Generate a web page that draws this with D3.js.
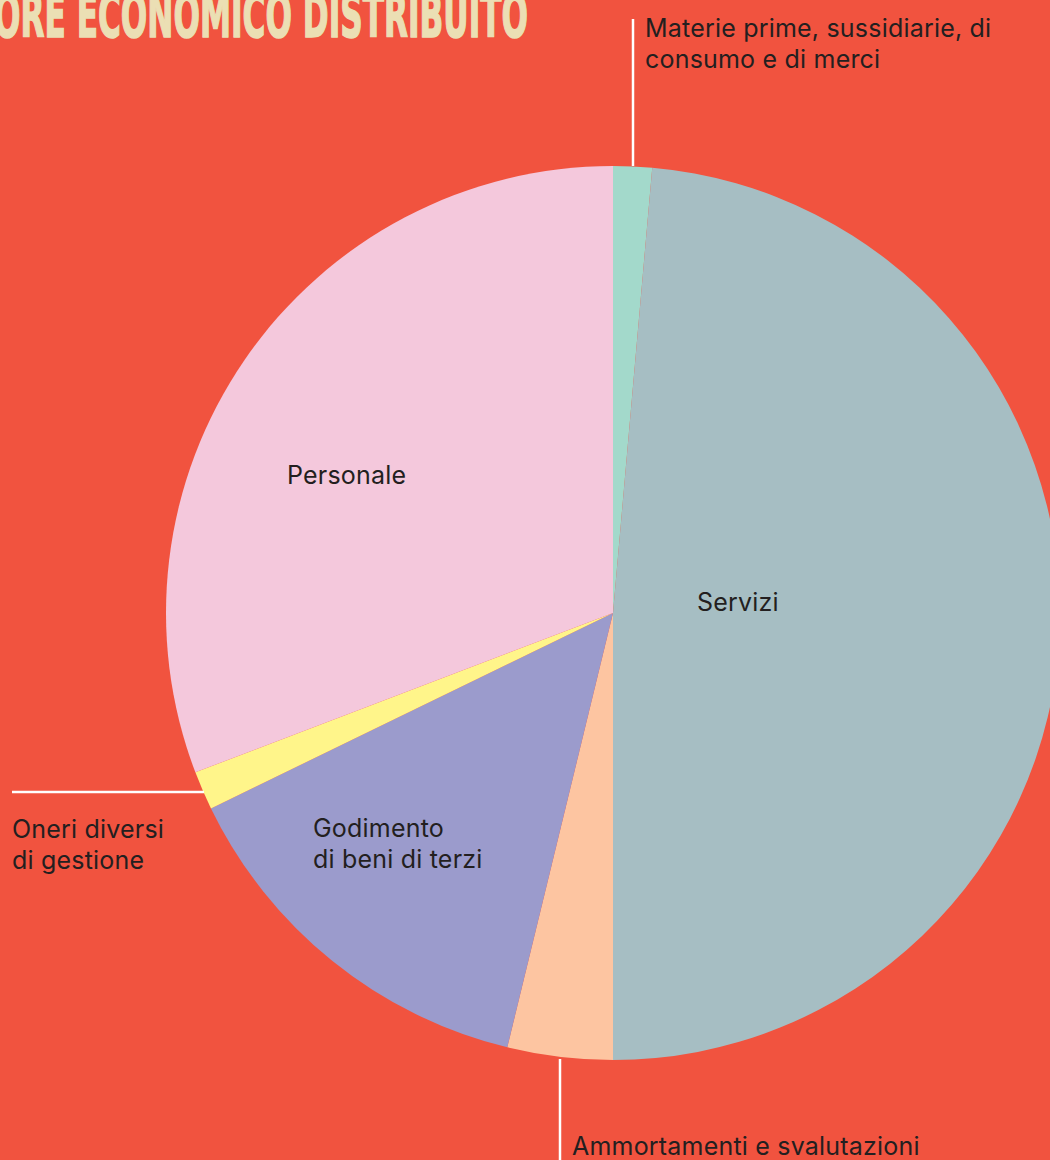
<html>
  <head>
    <script src="https://d3js.org/d3.v7.min.js"></script>
    <style>
      body { margin: 0; background: #f1533f; overflow: hidden; }
      svg { display: block; }
      .lbl { font-family: Inter, "Noto Sans", sans-serif; font-size: 25px; letter-spacing: 0.2px; fill: #231f20; }
    </style>
  </head>
  <body>
    <svg class="chart"></svg>
  </body>
  <script>
  // values (share of total, %), clockwise from 12 o'clock
  const categories = ['Materie prime', 'Servizi', 'Ammortamenti e svalutazioni', 'Godimento di beni di terzi', 'Oneri diversi di gestione', 'Personale'];
  const values = [1.4, 48.6, 3.8, 14.0, 1.4, 30.8];
  const colors = ['#a3d9cb', '#a6bec3', '#fdc5a1', '#9b9bcc', '#fff58a', '#f4c8dc'];

  // label lines for each slice
  const labelLines = [
    ['Materie prime, sussidiarie, di', 'consumo e di merci'],
    ['Servizi'],
    ['Ammortamenti e svalutazioni'],
    ['Godimento', 'di beni di terzi'],
    ['Oneri diversi', 'di gestione'],
    ['Personale']
  ];

  function drawPie(){
    let width = 1050, height = 1160;
    let cx = 613, cy = 613, radius = 447;

    let svg = d3.select('.chart')
      .attr('width', width)
      .attr('height', height)
      .attr('viewBox', [0, 0, width, height]);

    let data = categories.map((c, i) => ({name: c, value: values[i], color: colors[i], lines: labelLines[i]}));

    let arcs = d3.pie()
      .sort(null)
      .value(d => d.value)(data);

    let arc = d3.arc().innerRadius(0).outerRadius(radius);

    let g = svg.append('g').attr('transform', `translate(${cx},${cy})`);

    g.selectAll('path')
      .data(arcs)
      .join('path')
        .attr('fill', d => d.data.color)
        .attr('d', arc);

    // title (cut off on the left in the original)
    svg.append('text')
      .attr('x', -6)
      .attr('y', 37)
      .attr('textLength', 534)
      .attr('lengthAdjust', 'spacingAndGlyphs')
      .style('font-family', '"DejaVu Sans Condensed", "DejaVu Sans", sans-serif')
      .style('font-weight', 'bold')
      .style('font-size', '60px')
      .style('fill', '#ebdfb4')
      .style('stroke', '#ebdfb4')
      .style('stroke-width', 1.5)
      .text('ORE ECONOMICO DISTRIBUITO');

    // inside labels
    let inside = {1: [697, 611], 3: [313, 837], 5: [287, 484]};
    // outside labels with leader lines
    let outside = {
      0: {x: 645, y: 37, line: [[633, 19], [633, cy - radius]]},
      4: {x: 12, y: 838, line: [[12, 792], [204, 792]]},
      2: {x: 572, y: 1155, line: [[560, cy + radius - 1], [560, 1160]]}
    };

    arcs.forEach((a, i) => {
      let pos, o = outside[i];
      if (o) {
        svg.append('path')
          .attr('d', d3.line()(o.line))
          .attr('stroke', '#fff')
          .attr('stroke-width', 2.5)
          .attr('fill', 'none');
        pos = [o.x, o.y];
      } else {
        pos = inside[i];
      }
      let t = svg.append('text').attr('class', 'lbl').attr('x', pos[0]).attr('y', pos[1]);
      a.data.lines.forEach((l, k) => {
        t.append('tspan').attr('x', pos[0]).attr('dy', k === 0 ? 0 : 31).text(l);
      });
    });
  }

  drawPie();
  </script>
</html>
